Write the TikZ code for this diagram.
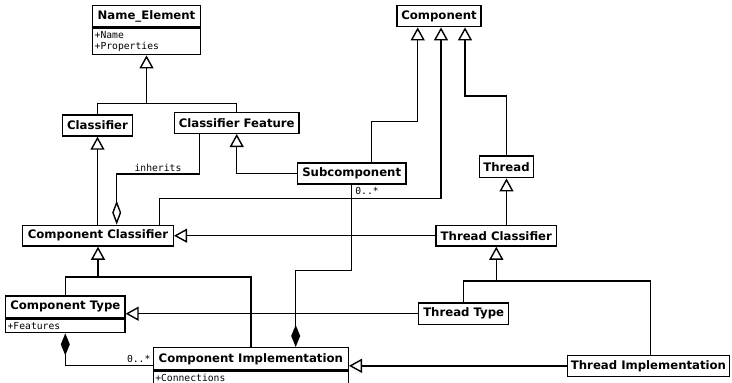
\documentclass[tikz,border=0pt]{standalone}
\usepackage{fontspec}
\usetikzlibrary{arrows.meta,positioning}
\newfontfamily\umlsans{DejaVu Sans}
\newfontfamily\umlmono{DejaVu Sans Mono}
\newcommand\clsfont{\umlsans\bfseries\fontsize{11.7}{14}\selectfont}
\newcommand\attfont{\umlmono\fontsize{9.7}{11.7}\selectfont}
\tikzset{
  cls/.style={draw, fill=white, inner sep=0pt, font=\clsfont},
  attrs/.style={draw, fill=white, inner xsep=2pt, inner ysep=1pt, align=left, font=\attfont},
  gen/.style={-{Triangle[open,length=13pt,width=14pt]}},
  agg/.style={-{Diamond[open,length=24pt,width=9pt]}},
  compos/.style={-{Diamond[length=22pt,width=9pt]}},
  mult/.style={font=\attfont, inner sep=1.5pt},
}
\begin{document}
\begin{tikzpicture}[x=1pt, y=-1pt, line width=1.4pt]
      \useasboundingbox (0,0) rectangle (732,383);
      \node[cls, minimum width=107.6pt, minimum height=21.4pt] (nameel) at (146.5,16) {Name\_Element};
      \node[attrs, text width=103.6pt, minimum height=26.6pt, below=0pt of nameel] (nameel-attr) {+Name\\+Properties};
      \node[cls, minimum width=84pt, minimum height=21.4pt] (component) at (439,16) {Component};
      \node[cls, minimum width=69.6pt, minimum height=21pt] (clsf) at (97.5,125.5) {Classifier};
      \node[cls, minimum width=124.7pt, minimum height=20.6pt] (feat) at (236.7,123) {Classifier Feature};
      \node[cls, minimum width=108.5pt, minimum height=21pt] (subc) at (351.7,173.6) {Subcomponent};
      \node[cls, minimum width=54.4pt, minimum height=21.7pt] (thr) at (506.5,166.9) {Thread};
      \node[cls, minimum width=150.6pt, minimum height=20.7pt] (cclsf) at (98,235.7) {Component Classifier};
      \node[cls, minimum width=120.7pt, minimum height=20.7pt] (tclsf) at (496.3,235.7) {Thread Classifier};
      \node[cls, minimum width=119.3pt, minimum height=21.7pt] (ctype) at (65.3,306.8) {Component Type};
      \node[attrs, text width=115.3pt, minimum height=13.6pt, below=0pt of ctype] (ctype-attr) {+Features};
      \node[cls, minimum width=90pt, minimum height=21.3pt] (ttype) at (463.7,313.7) {Thread Type};
      \node[cls, minimum width=195pt, minimum height=22.3pt] (cimpl) at (250.8,358.8) {Component Implementation};
      \node[attrs, text width=191pt, minimum height=14pt, below=0pt of cimpl] (cimpl-attr) {+Connections};
      \node[cls, minimum width=161.6pt, minimum height=21pt] (timpl) at (648.5,365.8) {Thread Implementation};
      \coordinate (nej) at (146.5,103.3);
      \coordinate (ccj) at (98,277);
      \coordinate (tcj) at (496.3,281);
      \begin{scope}
        \draw[gen] (clsf.north) |- (nej) -- (nameel-attr.south);
        \draw (feat.north) |- (nej);
        \draw[gen] (clsf.south |- cclsf.north) -- (clsf.south);
        \draw[agg] ([xshift=-37.4pt]feat.south) -- ++(0,40) -| node[pos=0.25, above, mult] {inherits} ([xshift=18.7pt]cclsf.north);
        \draw[gen] ([xshift=61.3pt]cclsf.north) -- ++(0,-26) -| ([xshift=2pt]component.south);
        \draw[gen] ([xshift=19.7pt]subc.north) -- ++(0,-40.8) -| ([xshift=-21.3pt]component.south);
        \draw[gen] (subc.west) -| (feat.south);
        \draw[compos] (subc.south) node[mult, anchor=north west, xshift=1.5pt] {0..*} -- ++(0,85.5) -| ([xshift=44.9pt]cimpl.north);
        \draw[gen] (thr.north) -- ++(0,-59.3) -| ([xshift=26pt]component.south);
        \draw[gen] (thr.south |- tclsf.north) -- (thr.south);
        \draw[gen] (tclsf.west) -- (cclsf.east);
        \draw[gen] (ctype.north) |- (ccj) -- (cclsf.south);
        \draw (cimpl.north) |- (ccj);
        \draw[gen] (ttype.north) |- (tcj) -- (tclsf.south);
        \draw ([xshift=1.8pt]timpl.north) |- (tcj);
        \draw[gen] (ttype.west) -- (ttype.west -| ctype.east);
        \draw[gen] (timpl.west) -- (timpl.west -| cimpl.east);
        \draw[compos] ([yshift=-6.5pt]cimpl.west) node[mult, anchor=south east] {0..*} -| (ctype-attr.south);
      \end{scope}
    \end{tikzpicture}
\end{document}
